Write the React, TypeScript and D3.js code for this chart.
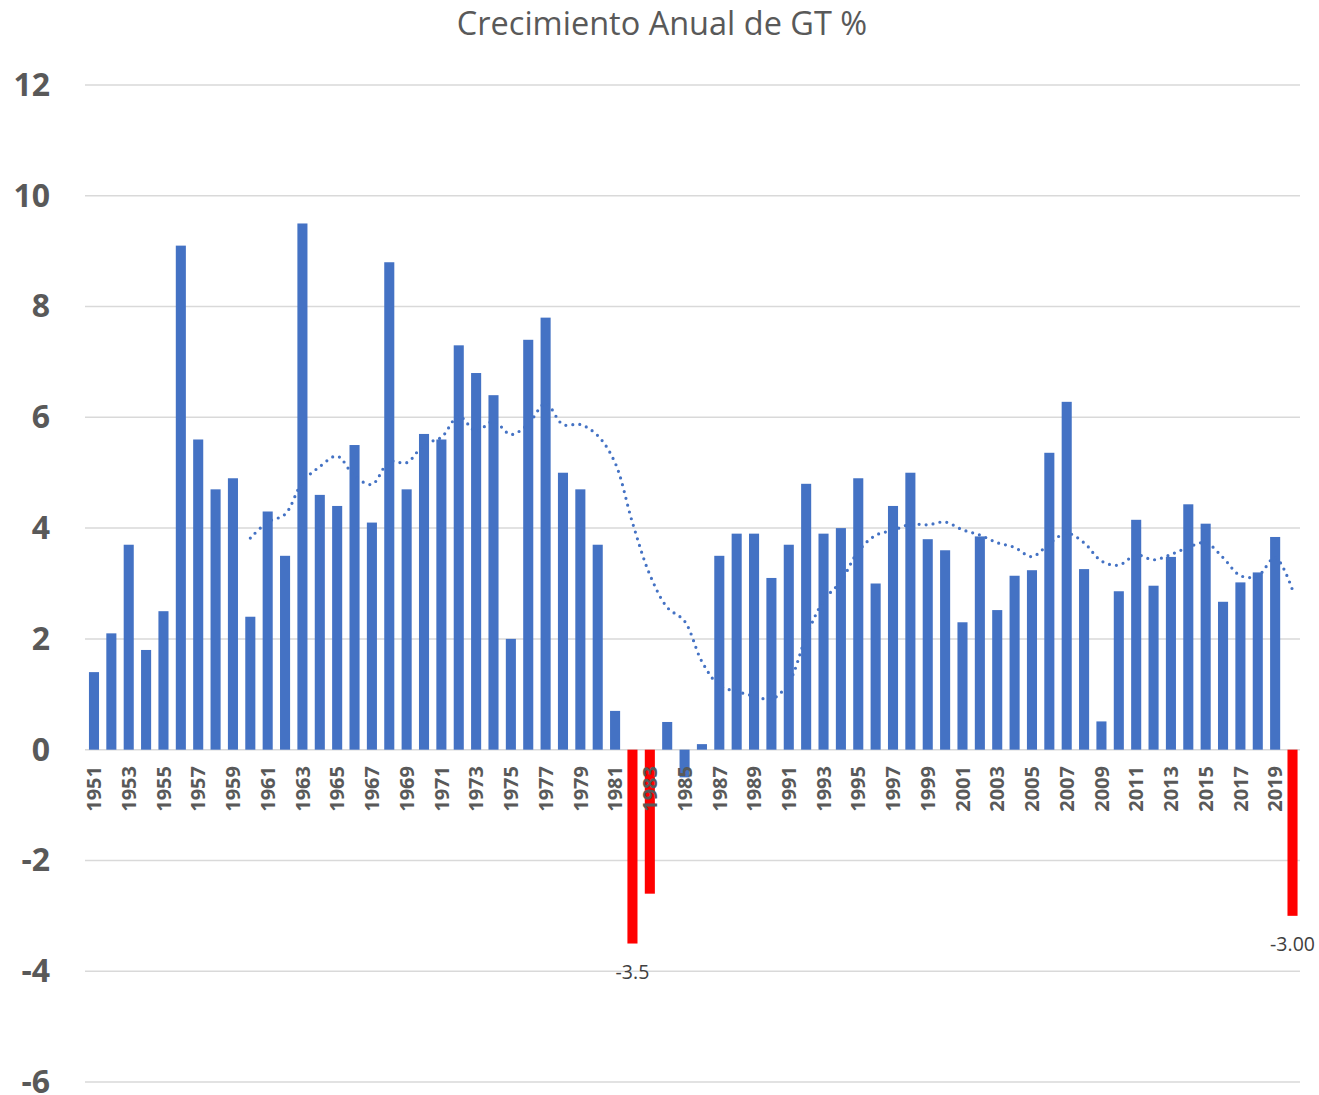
import React, { useEffect, useRef } from 'react';
import * as d3 from 'd3';

const years = d3.range(1951, 2021).map(String);

const growth = [
  1.4, 2.1, 3.7, 1.8, 2.5, 9.1, 5.6, 4.7, 4.9, 2.4,
  4.3, 3.5, 9.5, 4.6, 4.4, 5.5, 4.1, 8.8, 4.7, 5.7,
  5.6, 7.3, 6.8, 6.4, 2.0, 7.4, 7.8, 5.0, 4.7, 3.7,
  0.7, -3.5, -2.6, 0.5, -0.5, 0.1, 3.5, 3.9, 3.9, 3.1,
  3.7, 4.8, 3.9, 4.0, 4.9, 3.0, 4.4, 5.0, 3.8, 3.6,
  2.3, 3.85, 2.52, 3.14, 3.24, 5.36, 6.28, 3.26, 0.51, 2.86,
  4.15, 2.96, 3.48, 4.43, 4.08, 2.67, 3.02, 3.2, 3.84, -3.0,
];

// years drawn in red, and the labels shown under them
const redYears = ['1982', '1983', '2020'];
const dataLabels: { [key: string]: string } = { '1982': '-3.5', '2020': '-3.00' };

const yTicks = [-6, -4, -2, 0, 2, 4, 6, 8, 10, 12];

// Excel moving average trendline period
const trendPeriod = 10;

const title = 'Crecimiento Anual de GT %';

const App: React.FC = () => {
  const svgRef = useRef<SVGSVGElement>(null);

  useEffect(() => {
    if (!svgRef.current) return;
    const svg = d3.select(svgRef.current);
    svg.selectAll('*').remove();

    const x = d3.scaleBand<string>()
      .domain(years)
      .range([85.3, 1301.2])
      .paddingInner(0.42)
      .paddingOuter(0.21);

    const y = d3.scaleLinear().domain([-6, 12]).range([1082, 85]);

    // title
    svg.append('text')
      .attr('x', 662)
      .attr('y', 35)
      .attr('text-anchor', 'middle')
      .attr('fill', '#595959')
      .style('font-family', '"Open Sans", sans-serif')
      .style('font-size', '32.5px')
      .text(title);

    // gridlines
    svg.append('g')
      .selectAll('line')
      .data(yTicks)
      .join('line')
      .attr('x1', 85)
      .attr('x2', 1300)
      .attr('y1', d => y(d))
      .attr('y2', d => y(d))
      .attr('stroke', '#d9d9d9')
      .attr('stroke-width', 1.5);

    // y labels
    svg.append('g')
      .selectAll('text')
      .data(yTicks)
      .join('text')
      .attr('x', 50)
      .attr('y', d => y(d))
      .attr('dy', '0.34em')
      .attr('text-anchor', 'end')
      .attr('fill', '#595959')
      .style('font-family', '"Open Sans", sans-serif')
      .style('font-weight', 'bold')
      .style('font-size', '32px')
      .text(d => String(d));

    // bars
    svg.append('g')
      .selectAll('rect')
      .data(growth)
      .join('rect')
      .attr('x', (d, i) => x(years[i])!)
      .attr('width', x.bandwidth())
      .attr('y', d => y(Math.max(0, d)))
      .attr('height', d => Math.abs(y(d) - y(0)))
      .attr('fill', (d, i) => redYears.includes(years[i]) ? '#ff0000' : '#4472c4');

    // x labels (every other year)
    svg.append('g')
      .selectAll('text')
      .data(years.filter((d, i) => i % 2 === 0))
      .join('text')
      .attr('transform', d => `translate(${x(d)! + x.bandwidth() / 2},766) rotate(-90)`)
      .attr('dy', '0.36em')
      .attr('text-anchor', 'end')
      .attr('fill', '#595959')
      .style('font-family', '"Open Sans", sans-serif')
      .style('font-weight', 'bold')
      .style('font-size', '20px')
      .text(d => d);

    // moving average trendline
    const trend = growth
      .map((d, i) => i < trendPeriod - 1 ? null : { year: years[i], v: d3.mean(growth.slice(i - trendPeriod + 1, i + 1))! })
      .filter(Boolean) as { year: string; v: number }[];

    const line = d3.line<{ year: string; v: number }>()
      .x(d => x(d.year)! + x.bandwidth() / 2)
      .y(d => y(d.v))
      .curve(d3.curveCatmullRom.alpha(0.5));

    svg.append('path')
      .datum(trend)
      .attr('d', line)
      .attr('fill', 'none')
      .attr('stroke', '#4472c4')
      .attr('stroke-width', 3.2)
      .attr('stroke-linecap', 'round')
      .attr('stroke-dasharray', '0 7');

    // data labels
    svg.append('g')
      .selectAll('text')
      .data(Object.keys(dataLabels))
      .join('text')
      .attr('x', d => x(d)! + x.bandwidth() / 2)
      .attr('y', d => y(growth[years.indexOf(d)]) + 28)
      .attr('dy', '0.36em')
      .attr('text-anchor', 'middle')
      .attr('fill', '#404040')
      .style('font-family', '"Open Sans", sans-serif')
      .style('font-size', '19.5px')
      .text(d => dataLabels[d]);
  }, []);

  return (
    <svg
      ref={svgRef}
      width={1319}
      height={1095}
      style={{ position: 'absolute', left: 0, top: 0, background: '#fff' }}
    />
  );
};

export default App;
